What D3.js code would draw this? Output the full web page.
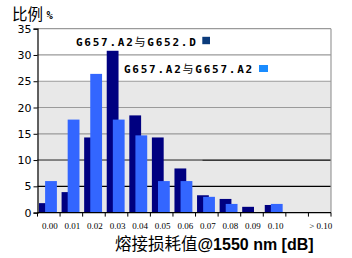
<!DOCTYPE html>
<html>
<head>
<meta charset="utf-8">
<script src="https://cdn.jsdelivr.net/npm/d3@7"></script>
<style>
html,body{margin:0;padding:0;background:#fff;}
svg{display:block;}
</style>
</head>
<body>
<svg id="chart" width="352" height="258"></svg>
<script>
const categories = ["0.00","0.01","0.02","0.03","0.04","0.05","0.06","0.07","0.08","0.09","0.10","","> 0.10"];
const seriesNames = ["G657.A2与G652.D","G657.A2与G657.A2"];
const g652Values = [1.8, 3.9, 14.3, 30.8, 18.5, 14.3, 8.4, 3.3, 2.6, 1.1, 1.45, 0, 0];
const g657Values = [6.0, 17.7, 26.4, 17.7, 14.7, 6.0, 6.0, 3.0, 1.65, 0, 1.65, 0, 0];
const yTicks = [0, 5, 10, 15, 20, 25, 30, 35];
const yTitle = "比例";
const xTitleCJK = "熔接损耗值";
const xTitleLatin = "@1550 nm [dB]";

const svg = d3.select("#chart");
const L = 37.5, R = 331, T = 28.7, B = 212.6;
const x = d3.scaleBand().domain(categories).range([L, R]).padding(0);
const y = d3.scaleLinear().domain([0, 35]).range([B, T]);
const bw = 11.8;

// plot background: grey below 25, white above
svg.append("rect").attr("x", L).attr("y", y(25)).attr("width", R - L).attr("height", y(0) - y(25)).attr("fill", "#e8e8e8");

// grid lines
yTicks.filter(d => d > 0).forEach(d => {
  svg.append("line").attr("x1", L).attr("x2", R).attr("y1", y(d)).attr("y2", y(d))
    .attr("stroke", d <= 10 ? "#000" : "#9a9a9a").attr("stroke-width", 1.2);
});
// grey segment on the 10 line
svg.append("line").attr("x1", L).attr("x2", x("0.07") + 7).attr("y1", y(10)).attr("y2", y(10))
  .attr("stroke", "#9a9a9a").attr("stroke-width", 1.2);
// right border
svg.append("line").attr("x1", R).attr("x2", R).attr("y1", y(35)).attr("y2", y(0))
  .attr("stroke", "#9a9a9a").attr("stroke-width", 1.2);

// bars
svg.append("g").selectAll("rect").data(categories).join("rect")
  .attr("x", d => x(d) + 1.5).attr("width", bw)
  .attr("y", (d, i) => y(g652Values[i])).attr("height", (d, i) => y(0) - y(g652Values[i]))
  .attr("fill", "#000080");
svg.append("g").selectAll("rect").data(categories).join("rect")
  .attr("x", d => x(d) + 7.6).attr("width", bw)
  .attr("y", (d, i) => y(g657Values[i])).attr("height", (d, i) => y(0) - y(g657Values[i]))
  .attr("fill", "#3366ff");

// y axis
const yAxis = d3.axisLeft(y).tickValues(yTicks).tickSize(4).tickPadding(2);
const gy = svg.append("g").attr("transform", `translate(${L},0)`).call(yAxis);
gy.select(".domain").attr("stroke", "#000").attr("stroke-width", 1.2);
gy.selectAll(".tick line").attr("stroke", "#000");
gy.selectAll(".tick text").attr("font-family", "DejaVu Sans").attr("font-size", 11).attr("fill", "#000");

// x axis
const gx = svg.append("g").attr("transform", `translate(0,${B})`);
gx.append("line").attr("x1", L).attr("x2", R).attr("stroke", "#000").attr("stroke-width", 1.2);
const bounds = categories.map(d => x(d)).concat([R]);
gx.selectAll("line.t").data(bounds).join("line").attr("class", "t")
  .attr("x1", d => d).attr("x2", d => d).attr("y1", 0).attr("y2", 4).attr("stroke", "#000");
gx.selectAll("text").data(categories).join("text")
  .attr("x", d => x(d) + x.bandwidth() / 2 + 1).attr("y", 16.5)
  .attr("text-anchor", "middle").attr("font-family", "Liberation Serif").attr("font-size", 9)
  .attr("fill", "#000").text(d => d);

// y title
svg.append("text").attr("x", 12).attr("y", 20).attr("font-family", "Noto Sans CJK SC")
  .attr("font-size", 15.5).attr("fill", "#000").text(yTitle);
svg.append("text").attr("x", 46.5).attr("y", 19).attr("font-family", "DejaVu Sans Mono")
  .attr("font-weight", "bold").attr("font-size", 10.5).attr("fill", "#000").text("%");

// x title
const xt = svg.append("text").attr("x", 115).attr("y", 250).attr("fill", "#000");
xt.append("tspan").attr("font-family", "Noto Sans CJK SC").attr("font-size", 16.5).text(xTitleCJK);
xt.append("tspan").attr("font-family", "Liberation Sans").attr("font-weight", "bold").attr("font-size", 16).text(xTitleLatin);

// legend
function legendText(xp, yp, label) {
  const t = svg.append("text").attr("x", xp).attr("y", yp).attr("fill", "#000")
    .attr("font-family", "DejaVu Sans Mono").attr("font-weight", "bold").attr("font-size", 11)
    .attr("letter-spacing", 1.75);
  const parts = label.split("与");
  t.append("tspan").text(parts[0]);
  t.append("tspan").attr("font-family", "Noto Sans CJK SC").attr("font-weight", "normal").text("与");
  t.append("tspan").text(parts[1]);
}
legendText(76, 46, seriesNames[0]);
svg.append("rect").attr("x", 202.3).attr("y", 36.8).attr("width", 7.7).attr("height", 7.4).attr("fill", "#0b3b7b");
legendText(124, 73, seriesNames[1]);
svg.append("rect").attr("x", 259).attr("y", 65).attr("width", 9).attr("height", 7).attr("fill", "#1a8cff");
</script>
</body>
</html>
